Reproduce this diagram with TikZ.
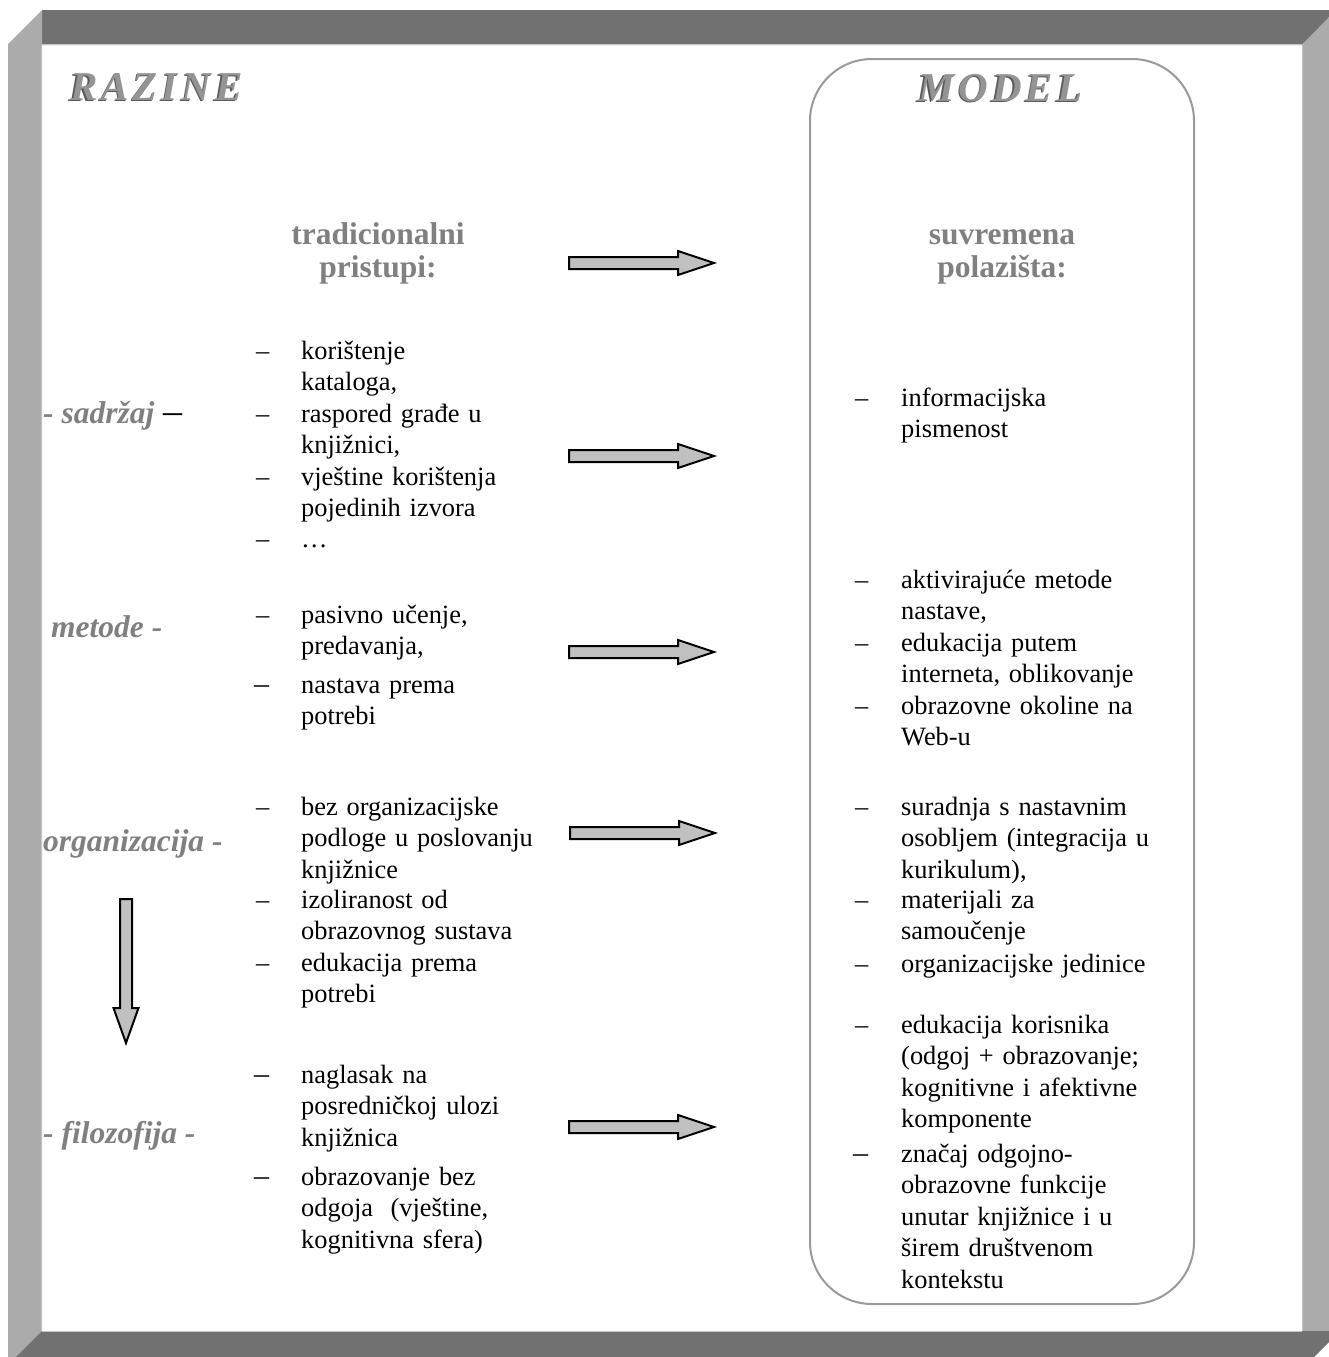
\documentclass[tikz,border=0pt]{standalone}
\usepackage{fontspec}
\setmainfont{Liberation Serif}

\definecolor{framedark}{HTML}{717171}
\definecolor{framelight}{HTML}{ABABAB}
\definecolor{framehl}{HTML}{C6C6C6}
\definecolor{labelgray}{HTML}{808080}
\definecolor{titlegray}{HTML}{949494}
\definecolor{titleshade}{HTML}{5A5A5A}
\definecolor{arrowfill}{HTML}{C0C0C0}
\definecolor{boxline}{HTML}{9A9A9A}

\tikzset{
  bodytext/.style={anchor=base west, inner sep=0pt, text width=330pt, align=left,
    font=\fontsize{26.4}{31.5}\selectfont},
  itemdash/.style={anchor=base west, inner sep=0pt, font=\fontsize{26.4}{31.5}\selectfont},
  widedash/.style={itemdash, font=\fontsize{30}{31.5}\selectfont},
  heading/.style={anchor=base, inner sep=0pt, text=labelgray,
    font=\bfseries\fontsize{31.5}{35}\selectfont},
  levellabel/.style={anchor=base west, inner sep=0pt, text=labelgray,
    font=\bfseries\itshape\fontsize{31.5}{35}\selectfont},
  titletext/.style={anchor=base west, inner sep=0pt, text=titlegray,
    font=\bfseries\itshape\fontsize{41}{44}\selectfont},
  titleshadow/.style={titletext, text=titleshade},
  blockarrow/.style={draw=black, line width=2pt, fill=arrowfill, line join=miter},
  modelbox/.style={draw=boxline, line width=2pt, rounded corners=62pt},
}

% horizontal block arrow: left end x, centre y
\newcommand\rightblock[2]{%
  \draw[blockarrow] (#1,#2-6) -- (#1+109,#2-6) -- (#1+109,#2-12) -- (#1+145,#2)
    -- (#1+109,#2+12) -- (#1+109,#2+6) -- (#1,#2+6) -- cycle;}

\begin{document}
\begin{tikzpicture}[x=1pt, y=-1pt]
  \fill[white] (0,0) rectangle (1329,1357);
  \useasboundingbox (0,0) rectangle (1329,1357);

  % rounded frame of the model column
  \draw[modelbox] (810,59) rectangle (1194,1304);

  % titles
  \node[titleshadow] (razine-s) at (68.5,101.5) {R\kern4pt A\kern4pt Z\kern4pt I\kern4pt N\kern4pt E};
  \node[titletext]   (razine)   at (70,100)     {R\kern4pt A\kern4pt Z\kern4pt I\kern4pt N\kern4pt E};
  \node[titleshadow] (model-s)  at (916.5,102.5) {M\kern4pt O\kern4pt D\kern4pt E\kern4pt L};
  \node[titletext]   (model)    at (918,101)     {M\kern4pt O\kern4pt D\kern4pt E\kern4pt L};

  % column headings
  \node[heading] (trad1) at (378,244) {tradicionalni};
  \node[heading] (trad2) at (378,277) {pristupi:};
  \node[heading] (suvr1) at (1002,244) {suvremena};
  \node[heading] (suvr2) at (1002,277) {polazišta:};

  % levels
  \node[levellabel] (lv-sadrzaj) at (43,423) {- sadržaj};
  \node[anchor=base west, inner sep=0pt, font=\fontsize{38}{40}\selectfont] (lv-sadrzaj-dash) at (163,423) {–};
  \node[levellabel] (lv-metode) at (51,637) {metode -};
  \node[levellabel] (lv-organizacija) at (43,851) {organizacija -};
  \node[levellabel] (lv-filozofija) at (43,1143) {- filozofija -};

  % traditional approaches
  \foreach \nm/\yy in {a1/359, a2/422, a3/485, a4/547, b1/623,
                       c1/815, c2/908, c3/971}
    \node[itemdash] (dash-\nm) at (256,\yy) {–};
  \foreach \nm/\yy in {b2/693, d1/1083, d2/1185}
    \node[widedash] (dash-\nm) at (254,\yy) {–};
  \node[bodytext] (a1) at (301,359) {korištenje\\kataloga,};
  \node[bodytext] (a2) at (301,422) {raspored građe u\\knjižnici,};
  \node[bodytext] (a3) at (301,485) {vještine korištenja\\pojedinih izvora};
  \node[bodytext] (a4) at (301,547) {…};
  \node[bodytext] (b1) at (301,623) {pasivno učenje,\\predavanja,};
  \node[bodytext] (b2) at (301,693) {nastava prema\\potrebi};
  \node[bodytext] (c1) at (301,815) {bez organizacijske\\podloge u poslovanju\\knjižnice};
  \node[bodytext] (c2) at (301,908) {izoliranost od\\obrazovnog sustava};
  \node[bodytext] (c3) at (301,971) {edukacija prema\\potrebi};
  \node[bodytext] (d1) at (301,1083) {naglasak na\\posredničkoj ulozi\\knjižnica};
  \node[bodytext] (d2) at (301,1185) {obrazovanje bez\\odgoja\ \ (vještine,\\kognitivna sfera)};

  % contemporary starting points
  \foreach \nm/\yy in {e1/406, f1/588, f2/651, f3/714, g1/815, g2/908, g3/972,
                       h1/1033}
    \node[itemdash] (dash-\nm) at (855,\yy) {–};
  \node[widedash] (dash-h2) at (853,1162) {–};
  \node[bodytext] (e1) at (901,406) {informacijska\\pismenost};
  \node[bodytext] (f1) at (901,588) {aktivirajuće metode\\nastave,};
  \node[bodytext] (f2) at (901,651) {edukacija putem\\interneta, oblikovanje};
  \node[bodytext] (f3) at (901,714) {obrazovne okoline na\\Web-u};
  \node[bodytext] (g1) at (901,815) {suradnja s nastavnim\\osobljem (integracija u\\kurikulum),};
  \node[bodytext] (g2) at (901,908) {materijali za\\samoučenje};
  \node[bodytext] (g3) at (901,972) {organizacijske jedinice};
  \node[bodytext] (h1) at (901,1033) {edukacija korisnika\\(odgoj + obrazovanje;\\kognitivne i afektivne\\komponente};
  \node[bodytext] (h2) at (901,1162) {značaj odgojno-\\obrazovne funkcije\\unutar knjižnice i u\\širem društvenom\\kontekstu};

  % block arrows between the columns
  \rightblock{569}{263}
  \rightblock{569}{456}
  \rightblock{569}{652}
  \rightblock{570}{833}
  \rightblock{569}{1127}

  % downward block arrow along the levels
  \draw[blockarrow] (120,899) -- (132,899) -- (132,1008) -- (138.5,1008) -- (126,1043)
    -- (113.5,1008) -- (120,1008) -- cycle;

  % bevelled outer frame
  \fill[framedark] (42,10) -- (1336,10) -- (1302,45) -- (42,45) -- cycle;
  \fill[framelight] (8,44) -- (42,10) -- (42,1357) -- (8,1357) -- cycle;
  \fill[framelight] (1302,45) -- (1336,10) -- (1336,1331) -- (1302,1331) -- cycle;
  \fill[framedark] (42,1331) -- (1340,1331) -- (1314,1357) -- (16,1357) -- cycle;
  \draw[framehl, line width=1.5pt] (41.25,45) -- (41.25,1331);
  \draw[framehl, line width=1.2pt] (42,44.4) -- (1302,44.4);
  \draw[framehl, line width=1.2pt] (42,1331.6) -- (1302,1331.6);
  \draw[framehl, line width=1.2pt] (1302.6,45) -- (1302.6,1331);
\end{tikzpicture}
\end{document}
